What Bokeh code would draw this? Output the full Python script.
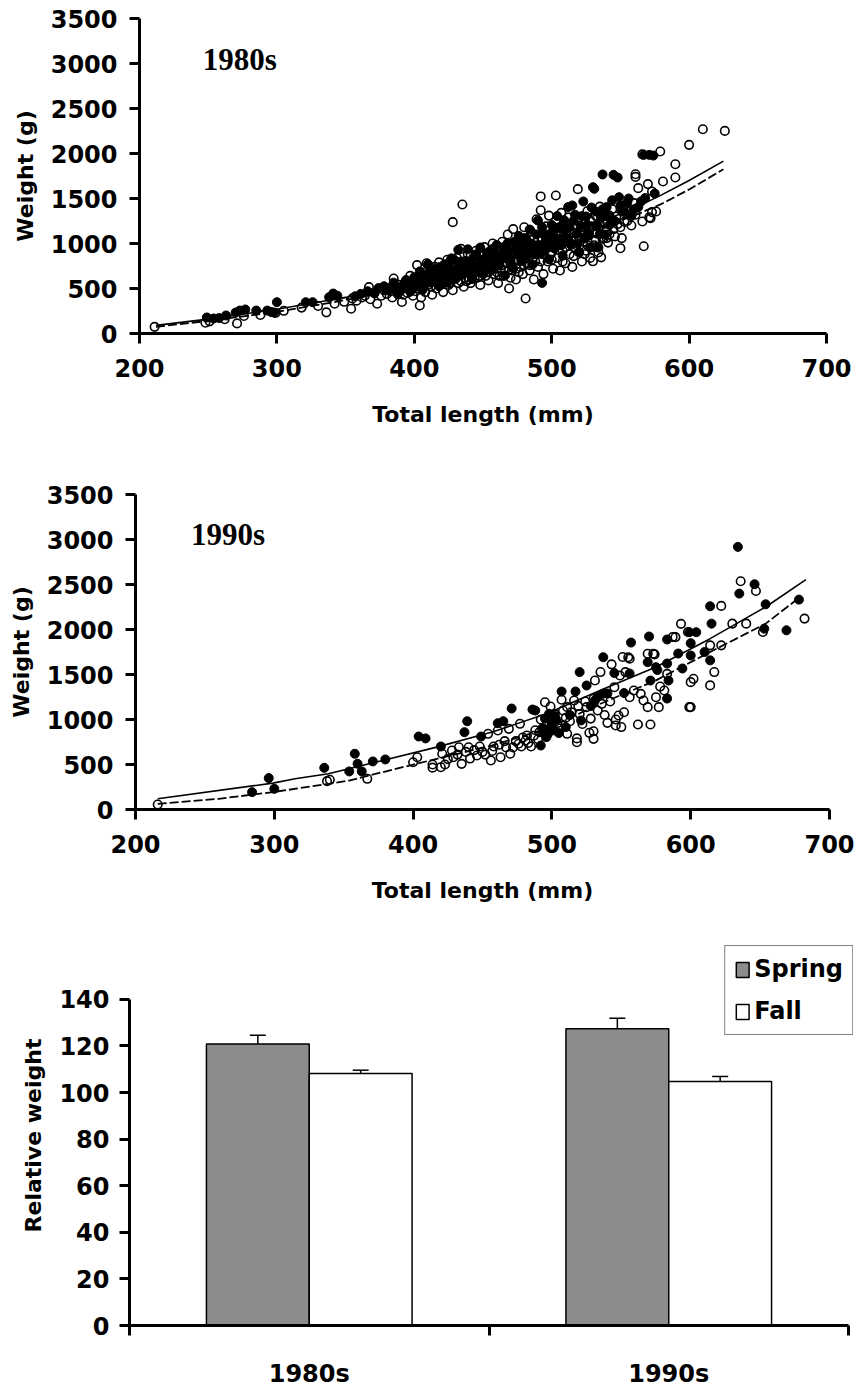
from bokeh.plotting import figure
from bokeh.models import Range1d, FixedTicker, Label, Whisker, TeeHead, ColumnDataSource, Legend, LegendItem
from bokeh.embed import file_html
from bokeh.resources import INLINE

# ---------------- data ----------------
x_ticks = [200, 300, 400, 500, 600, 700]
y_ticks = [0, 500, 1000, 1500, 2000, 2500, 3000, 3500]

# 1980s, fall (open circles)
fall80_len = [211, 248, 251, 262, 271, 276, 288, 299, 305, 318, 330, 336, 342, 349, 354, 355, 358, 362, 364, 367,
              368, 371, 373, 376, 378, 380, 382, 384, 385, 387, 389, 391, 392, 394, 396, 397, 399, 400, 401, 402,
              403, 404, 405, 406, 407, 408, 409, 410, 411, 412, 413, 414, 415, 416, 417, 418, 419, 420, 421, 422,
              423, 424, 425, 426, 427, 428, 428, 429, 430, 431, 432, 433, 434, 435, 435, 436, 437, 438, 439, 440,
              441, 442, 443, 444, 445, 446, 447, 448, 449, 450, 451, 452, 453, 454, 455, 456, 457, 458, 459, 460,
              461, 462, 463, 464, 465, 466, 467, 468, 469, 470, 471, 472, 473, 474, 475, 476, 477, 478, 479, 480,
              480, 481, 482, 483, 484, 485, 486, 487, 488, 489, 490, 491, 492, 492, 493, 494, 495, 496, 497, 498,
              499, 500, 501, 502, 503, 503, 504, 505, 506, 507, 508, 509, 510, 511, 512, 513, 514, 515, 516, 517,
              518, 519, 520, 521, 522, 523, 524, 525, 526, 527, 528, 529, 530, 531, 532, 533, 534, 535, 536, 537,
              538, 540, 541, 542, 545, 546, 548, 550, 551, 553, 556, 560, 561, 561, 561, 563, 566, 566, 567, 570,
              571, 572, 573, 573, 576, 579, 581, 590, 590, 600, 610, 626,
              383, 386, 390, 393, 395, 398, 400, 402, 404, 406, 408, 410, 412, 414, 416, 418, 420, 422, 424, 426,
              428, 430, 432, 434, 436, 438, 440, 442, 444, 446, 448, 450, 452, 454, 456, 458, 460, 462, 464, 466,
              468, 470, 472, 474, 476, 478, 480, 482, 484, 486, 488, 490, 492, 494, 496, 498, 500, 502, 504, 506,
              508, 510, 512, 514, 516, 518, 520, 522, 524, 526, 528, 530, 532, 534, 536, 538, 540, 542, 544, 547,
              550, 552, 555, 558, 404, 417, 426, 433, 441, 447, 455, 463, 471, 479, 487, 495, 503, 511, 519, 527,
              535, 470, 462, 454, 446, 438, 476, 484, 492, 500, 508, 516, 524, 532, 540]
fall80_wt = [74, 120, 135, 158, 112, 195, 205, 228, 252, 288, 305, 235, 330, 352, 275, 390, 365, 400, 420, 515,
             380, 455, 330, 420, 480, 440, 505, 400, 611, 470, 540, 350, 430, 580, 490, 640, 420, 560, 470, 760,
             520, 311, 400, 650, 580, 460, 780, 540, 620, 700, 430, 580, 740, 500, 640, 790, 540, 680, 460, 600,
             720, 820, 540, 660, 760, 1237, 480, 620, 700, 840, 560, 680, 940, 1433, 740, 520, 620, 800, 880, 680,
             560, 760, 840, 620, 920, 700, 780, 540, 860, 720, 960, 640, 810, 590, 900, 740, 1000, 660, 830, 780,
             560, 920, 720, 1020, 640, 860, 780, 1100, 500, 940, 700, 1160, 820, 600, 1000, 880, 740, 1060, 660, 920,
             1180, 389, 780, 1010, 700, 1130, 840, 600, 960, 1270, 740, 900, 1370, 1523, 1060, 660, 980, 1190, 800, 1310,
             880, 1110, 720, 1000, 1533, 1250, 840, 1080, 700, 1340, 920, 1160, 780, 1020, 1290, 880, 1120, 740, 960, 1210,
             1060, 1604, 900, 1150, 800, 1020, 1260, 920, 1360, 1090, 840, 1190, 802, 980, 1310, 1110, 900, 1410, 846, 1050,
             1220, 1135, 1010, 1310, 1160, 1079, 1216, 948, 1060, 1240, 1350, 1449, 1770, 1740, 1319, 1615, 1245, 1990, 970, 1660,
             1290, 1282, 1349, 1578, 1356, 2022, 1689, 1881, 1733, 2096, 2269, 2251,
             470, 520, 480, 560, 450, 540, 600, 500, 580, 540, 680, 600, 520, 680, 600, 660, 560, 700, 620, 560,
             680, 780, 640, 580, 700, 720, 600, 680, 780, 820, 640, 800, 700, 760, 860, 720, 680, 820, 760, 700,
             900, 800, 880, 720, 960, 820, 760, 900, 860, 980, 800, 1060, 960, 880, 1040, 960, 900, 1160, 1000, 1080,
             1200, 960, 1080, 1000, 1120, 980, 1060, 1180, 1100, 980, 1260, 1120, 1040, 1180, 1300, 1060, 1250, 1100, 1380, 1300,
             1180, 1420, 1250, 1200, 650, 700, 800, 760, 880, 880, 820, 880, 1000, 1000, 1060, 1100, 1120, 1200, 1250, 1180,
             1220, 620, 640, 680, 620, 580, 680, 760, 800, 820, 800, 860, 880, 960, 1060]

# 1980s, spring (filled circles)
spring80_len = [249, 254, 258, 263, 270, 273, 277, 285, 293, 296, 298, 300, 321, 326, 338, 341, 344, 357, 361, 366,
                371, 374, 378, 381, 385, 388, 391, 394, 397, 400, 402, 404, 406, 408, 410, 412, 414, 416, 418, 420,
                422, 424, 426, 427, 429, 430, 432, 433, 435, 437, 439, 440, 442, 444, 446, 448, 450, 452, 454, 456,
                458, 460, 462, 464, 466, 468, 470, 472, 474, 476, 478, 480, 482, 484, 486, 488, 490, 492, 493, 494,
                496, 498, 500, 502, 504, 506, 508, 510, 512, 514, 515, 516, 518, 520, 522, 523, 524, 526, 528, 530,
                531, 532, 534, 535, 536, 537, 540, 542, 545, 548, 549, 551, 555, 558, 563, 565, 567, 568, 571, 574, 575,
                384, 389, 393, 396, 399, 403, 405, 407, 409, 411, 413, 415, 417, 419, 421, 423, 425, 428, 431, 434,
                436, 438, 441, 443, 445, 447, 449, 451, 453, 455, 457, 459, 461, 463, 465, 467, 469, 471, 473, 475,
                477, 479, 481, 483, 485, 487, 489, 491, 493, 495, 497, 499, 501, 503, 505, 507, 509, 511, 513, 517,
                519, 521, 525, 527, 529, 533, 537, 539, 541, 544, 546, 550, 553, 556, 560]
spring80_wt = [178, 167, 172, 200, 233, 255, 267, 255, 255, 238, 233, 348, 348, 348, 403, 444, 420, 414, 440, 470,
               445, 505, 525, 480, 565, 435, 525, 595, 465, 625, 545, 690, 485, 610, 770, 565, 655, 710, 525, 630,
               770, 565, 695, 835, 821, 605, 931, 725, 655, 805, 935, 705, 605, 855, 745, 955, 665, 805, 905, 705,
               845, 985, 765, 885, 645, 1005, 825, 725, 945, 1085, 805, 1005, 865, 1155, 765, 965, 1255, 885, 562, 1105,
               1005, 825, 1205, 945, 1305, 1055, 865, 1155, 1405, 985, 1423, 1255, 1105, 905, 1305, 1467, 1055, 1205, 955, 1626,
               1608, 1355, 955, 1105, 1285, 1767, 1405, 1205, 1763, 1733, 1515, 1355, 1455, 1305, 1405, 1467, 1985, 1505, 1985, 1977, 1555,
               500, 470, 540, 560, 500, 590, 640, 520, 660, 600, 720, 580, 660, 740, 680, 620, 740, 640, 720, 800,
               760, 680, 800, 720, 880, 680, 820, 760, 860, 780, 940, 760, 880, 820, 960, 860, 920, 760, 1020, 880,
               960, 900, 1060, 940, 1000, 880, 1100, 980, 1180, 920, 1060, 980, 1120, 1040, 1180, 980, 1260, 1060, 1180, 1320,
               1000, 1200, 1300, 1100, 1400, 1200, 1380, 1100, 1300, 1480, 1250, 1420, 1350, 1500, 1380]

# 1980s fitted curves
curve80_len = [212, 250, 300, 340, 380, 420, 460, 500, 540, 560, 580, 600, 625]
curve80_spring = [90, 160, 270, 375, 480, 620, 800, 1020, 1270, 1390, 1540, 1700, 1915]
curve80_fall = [75, 140, 240, 345, 455, 595, 775, 990, 1200, 1310, 1440, 1600, 1825]

# 1990s, fall (open circles)
fall90_len = [216, 338, 340, 367, 400, 403, 414, 414, 420, 421, 423, 425, 428, 429, 432, 433, 435, 438, 440, 441,
              444, 446, 448, 450, 452, 454, 456, 457, 458, 461, 462, 463, 466, 467, 469, 470, 472, 474, 476, 477,
              478, 479, 481, 482, 483, 485, 487, 488, 490, 491, 492, 494, 495, 496, 497, 499, 500, 502, 504, 506,
              507, 508, 510, 511, 511, 513, 514, 516, 518, 518, 519, 520, 522, 524, 525, 527, 528, 530, 530, 530,
              531, 533, 535, 536, 538, 540, 542, 543, 545, 546, 546, 548, 549, 550, 551, 552, 553, 555, 556, 556,
              559, 562, 564, 566, 569, 569, 571, 573, 574, 575, 577, 578, 581, 583, 587, 589, 593, 598, 599, 600,
              600, 602, 614, 614, 617, 622, 622, 630, 636, 640, 647, 652, 682]
fall90_wt = [56, 315, 330, 341, 525, 581, 500, 465, 470, 619, 500, 560, 655, 581, 610, 692, 507, 640, 692, 566,
             660, 600, 700, 640, 610, 841, 544, 650, 700, 878, 720, 581, 760, 690, 896, 619, 690, 760, 730, 952,
             700, 800, 767, 822, 740, 700, 820, 880, 780, 860, 1000, 900, 1192, 880, 840, 1144, 980, 1060, 960, 900,
             1219, 1100, 1020, 1137, 841, 980, 1080, 1211, 748, 790, 1150, 1060, 950, 1200, 1137, 852, 1010, 785, 1230, 870,
             1433, 1100, 1527, 1174, 1050, 963, 1200, 1613, 1359, 933, 1000, 1044, 1489, 916, 1694, 1081, 1526, 1692, 1676, 1248,
             1322, 944, 1285, 1211, 1731, 1137, 944, 1730, 1724, 1248, 1137, 1366, 1322, 1507, 1917, 1915, 2063, 1972, 1137, 1415,
             1138, 1452, 1379, 1824, 1527, 2262, 1824, 2065, 2536, 2065, 2428, 1972, 2121]

# 1990s, spring (filled circles)
spring90_len = [284, 296, 300, 336, 354, 358, 360, 363, 371, 380, 404, 409, 420, 437, 439, 449, 461, 465, 471, 486,
                488, 492, 493, 494, 495, 496, 497, 498, 499, 500, 501, 502, 503, 505, 507, 510, 513, 517, 520, 521,
                525, 528, 531, 533, 537, 537, 540, 545, 552, 556, 557, 569, 570, 571, 575, 576, 583, 583, 584, 583,
                591, 594, 599, 600, 600, 604, 610, 614, 615, 614, 634, 635, 646, 654, 653, 669, 678]
spring90_wt = [193, 349, 230, 463, 423, 619, 508, 423, 534, 556, 811, 790, 700, 859, 981, 811, 959, 981, 1122, 1111,
               1100, 711, 900, 849, 1010, 804, 870, 1064, 990, 934, 880, 1040, 1000, 850, 1311, 916, 1050, 1311, 1527, 990,
               1378, 1150, 1212, 1250, 1692, 1287, 1289, 1516, 1294, 1511, 1855, 1637, 1922, 1433, 1581, 1550, 1889, 1622, 1433, 1233,
               1733, 1567, 1970, 1848, 1711, 1970, 1750, 2258, 2065, 1657, 2918, 2399, 2503, 2280, 2009, 1991, 2332]

# 1990s fitted curves
curve90s_len = [216, 299, 315, 339, 378, 417, 457, 496, 535, 575, 614, 654, 683]
curve90s_wt = [119, 293, 341, 397, 545, 693, 860, 1064, 1324, 1583, 1898, 2250, 2554]
curve90f_len = [216, 260, 299, 339, 354, 378, 417, 457, 496, 535, 575, 614, 654, 679]
curve90f_wt = [63, 119, 193, 285, 322, 415, 563, 712, 897, 1175, 1435, 1750, 2065, 2362]

# Relative weight bar chart
decades = ["1980s", "1990s"]
spring_wr = [120.8, 127.4]
spring_se = [3.8, 4.5]
fall_wr = [108.2, 104.7]
fall_se = [1.4, 2.2]
bar_ticks = [0, 20, 40, 60, 80, 100, 120, 140]

# ---------------- style ----------------
FONT = "DejaVu Sans"
TICK_SIZE = "24px"
TITLE_SIZE = "22px"


def style_axis(ax, label_standoff, title_standoff):
    ax.axis_line_width = 3
    ax.axis_line_color = "black"
    ax.major_tick_line_width = 3
    ax.major_tick_line_color = "black"
    ax.major_tick_in = 0
    ax.major_tick_out = 10
    ax.minor_tick_line_color = None
    ax.major_label_text_font = FONT
    ax.major_label_text_font_style = "bold"
    ax.major_label_text_font_size = TICK_SIZE
    ax.major_label_text_color = "black"
    ax.major_label_standoff = label_standoff
    ax.axis_label_text_font = FONT
    ax.axis_label_text_font_style = "bold"
    ax.axis_label_text_font_size = TITLE_SIZE
    ax.axis_label_text_color = "black"
    ax.axis_label_standoff = title_standoff


def scatter_panel(tag, tag_x, tag_y, f_len, f_wt, s_len, s_wt, cs_len, cs_wt, cf_len, cf_wt,
                  left, right, top, fig_h):
    frame_h = 315
    p = figure(width=856, height=fig_h, output_backend="svg", toolbar_location=None,
               x_range=Range1d(200, 700), y_range=Range1d(0, 3500),
               min_border_left=left, min_border_right=856 - right,
               min_border_top=top, min_border_bottom=fig_h - top - frame_h)
    p.grid.visible = False
    p.outline_line_color = None
    p.background_fill_color = "white"
    p.xaxis.ticker = FixedTicker(ticks=x_ticks)
    p.yaxis.ticker = FixedTicker(ticks=y_ticks)
    p.xaxis.axis_label = "Total length (mm)"
    p.yaxis.axis_label = "Weight (g)"
    style_axis(p.xaxis[0], 15, 22)
    style_axis(p.yaxis[0], 12, 10)

    p.scatter(f_len, f_wt, marker="circle", size=8.5, fill_color=None,
              line_color="black", line_width=1.6)
    p.scatter(s_len, s_wt, marker="circle", size=9, fill_color="black",
              line_color="black", line_width=1)
    p.line(cs_len, cs_wt, line_color="black", line_width=1.6)
    p.line(cf_len, cf_wt, line_color="black", line_width=1.8, line_dash="9 3")

    p.add_layout(Label(x=tag_x, y=tag_y, text=tag, text_font="Liberation Serif",
                       text_font_style="bold", text_font_size="31px",
                       text_color="black", text_baseline="alphabetic"))
    return p


p1 = scatter_panel("1980s", 246, 3040, fall80_len, fall80_wt, spring80_len, spring80_wt,
                   curve80_len, curve80_spring, curve80_len, curve80_fall,
                   left=139, right=826, top=18, fig_h=460)
p2 = scatter_panel("1990s", 240, 3060, fall90_len, fall90_wt, spring90_len, spring90_wt,
                   curve90s_len, curve90s_wt, curve90f_len, curve90f_wt,
                   left=135, right=829, top=34, fig_h=460)

# ---------------- bar chart ----------------
fig3_h = 470
frame_top = 25
frame_bottom = 413
px_per_unit = (frame_bottom - 80) / 140.0
y_end = (frame_bottom - frame_top) / px_per_unit
unit_px = 359.5
p3 = figure(width=856, height=fig3_h, output_backend="svg", toolbar_location=None,
            x_range=Range1d(0, 2 + 5 / unit_px), y_range=Range1d(0, y_end),
            min_border_left=129, min_border_right=3,
            min_border_top=frame_top, min_border_bottom=fig3_h - frame_bottom)
p3.grid.visible = False
p3.outline_line_color = None
p3.yaxis.ticker = FixedTicker(ticks=bar_ticks)
p3.yaxis.bounds = (0, 140)
p3.yaxis.axis_label = "Relative weight"
style_axis(p3.yaxis[0], 10, 10)

p3.xaxis.ticker = FixedTicker(ticks=[0.5, 1.5], minor_ticks=[0, 1, 2])
p3.xaxis.bounds = (0, 2)
p3.xaxis.major_label_overrides = {0.5: decades[0], 1.5: decades[1]}
style_axis(p3.xaxis[0], 24, 5)
p3.xaxis.major_tick_out = 0
p3.xaxis.minor_tick_line_color = "black"
p3.xaxis.minor_tick_line_width = 3
p3.xaxis.minor_tick_in = 0
p3.xaxis.minor_tick_out = 10

bw = 0.286
centers = [i + 0.5 for i in range(len(decades))]
src_s = ColumnDataSource(dict(x=[c - bw / 2 for c in centers], top=spring_wr,
                              up=[v + e for v, e in zip(spring_wr, spring_se)]))
src_f = ColumnDataSource(dict(x=[c + bw / 2 for c in centers], top=fall_wr,
                              up=[v + e for v, e in zip(fall_wr, fall_se)]))
r_s = p3.vbar(x="x", top="top", bottom=0, width=bw, source=src_s,
              fill_color="#8c8c8c", line_color="black", line_width=1.5)
r_f = p3.vbar(x="x", top="top", bottom=0, width=bw, source=src_f,
              fill_color="white", line_color="black", line_width=1.5)
for src in (src_s, src_f):
    p3.add_layout(Whisker(source=src, base="x", lower="top", upper="up",
                          line_color="black", line_width=1.5,
                          upper_head=TeeHead(size=16, line_color="black", line_width=1.5),
                          lower_head=None))

legend = Legend(items=[LegendItem(label="Spring", renderers=[r_s]),
                       LegendItem(label="Fall", renderers=[r_f])],
                location="top_right")
legend.margin = 0
legend.padding = 9
legend.spacing = 14
legend.glyph_width = 16
legend.glyph_height = 19
legend.label_standoff = 4
legend.label_text_font = FONT
legend.label_text_font_style = "bold"
legend.label_text_font_size = "24px"
legend.label_text_color = "black"
legend.border_line_color = "black"
legend.border_line_width = 1.5
legend.background_fill_color = "white"
legend.background_fill_alpha = 1.0
p3.add_layout(legend)

open("out.html", "w").write(file_html([p1, p2, p3], INLINE))
